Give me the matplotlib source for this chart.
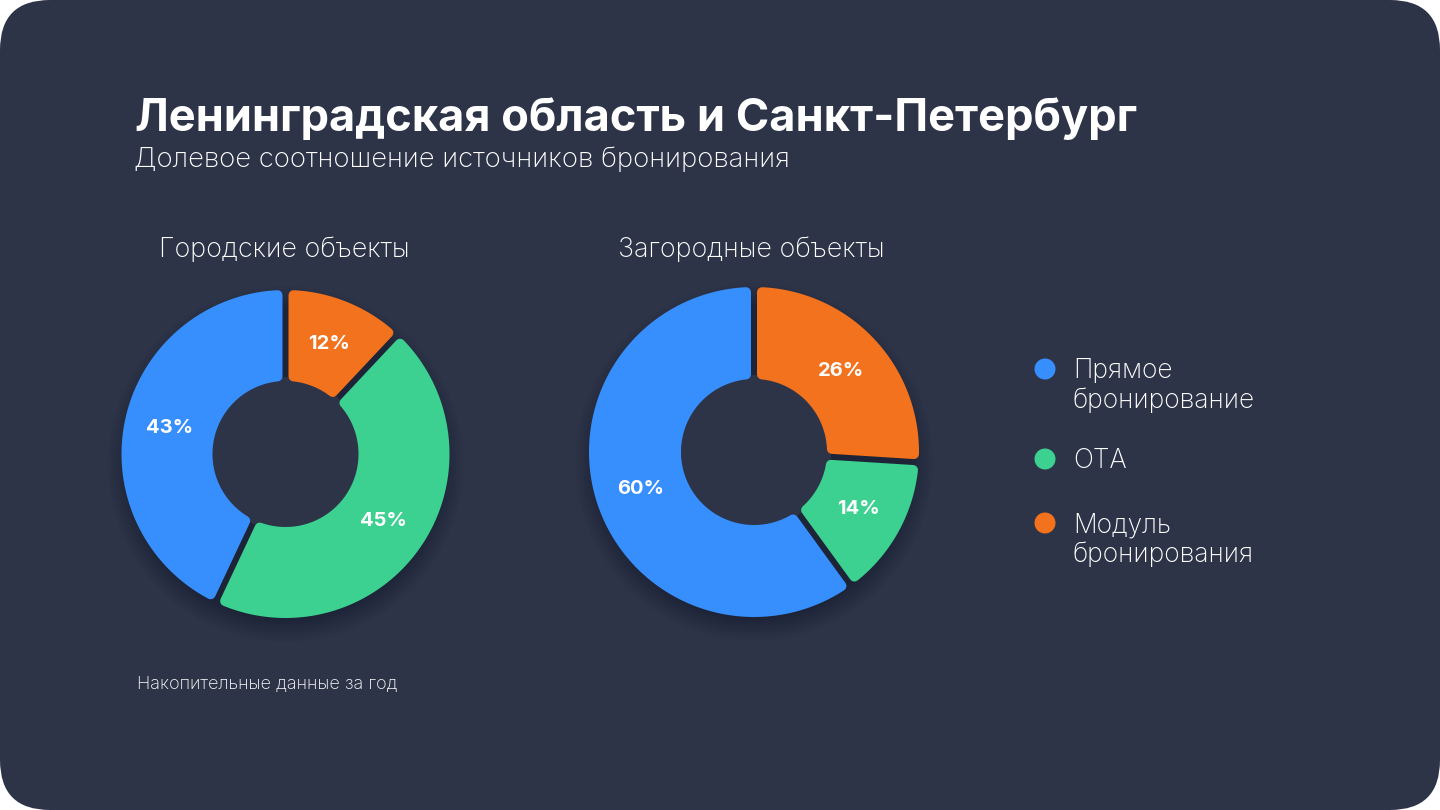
import numpy as np
import matplotlib
matplotlib.use("Agg")
import matplotlib.pyplot as plt
from matplotlib.patches import FancyBboxPatch, Polygon, Circle

# ---------------- data ----------------
title = "Ленинградская область и Санкт-Петербург"
subtitle = "Долевое соотношение источников бронирования"
footnote = "Накопительные данные за год"
categories = ["Прямое\nбронирование", "ОТА", "Модуль\nбронирования"]
chart_titles = ["Городские объекты", "Загородные объекты"]
city_values = [43, 45, 12]      # Прямое, ОТА, Модуль
country_values = [60, 14, 26]   # Прямое, ОТА, Модуль

colors = ["#378EFD", "#3CD091", "#F2721D"]
BG = "#2D3447"
FONT = ["Inter", "DejaVu Sans"]

W, H = 1440, 810
fig = plt.figure(figsize=(W / 100, H / 100), dpi=100, facecolor="white")
ax = fig.add_axes([0, 0, 1, 1])
ax.set_xlim(0, W)
ax.set_ylim(H, 0)
ax.set_aspect("equal")
ax.axis("off")

ax.add_patch(FancyBboxPatch((0, 0), W, H, boxstyle="round,pad=0,rounding_size=50",
                            fc=BG, ec="none", zorder=0))

PT = 72 / 100  # px -> points


def donut(cx, cy, R, r, values, gap=3.0, stroke=5.0):
    # soft shadow below the ring
    for k in range(16):
        ax.add_patch(Circle((cx, cy + 10), R + 14 - k * 1.5, fc="#131722",
                            ec="none", alpha=0.022, zorder=1))
    ax.add_patch(Circle((cx, cy), r + 4, fc=BG, ec="none", zorder=1.5))
    total = float(sum(values))
    start = 90.0
    h = gap + stroke
    Ro, ri = R - stroke, r + stroke
    for v, c in zip(values, colors):
        span = 360.0 * v / total
        t1, t2 = start, start + span
        ao1 = t1 + np.degrees(np.arcsin(h / Ro))
        ao2 = t2 - np.degrees(np.arcsin(h / Ro))
        ai1 = t1 + np.degrees(np.arcsin(h / ri))
        ai2 = t2 - np.degrees(np.arcsin(h / ri))
        to = np.radians(np.linspace(ao1, ao2, 200))
        ti = np.radians(np.linspace(ai2, ai1, 100))
        xs = np.concatenate([cx + Ro * np.cos(to), cx + ri * np.cos(ti)])
        ys = np.concatenate([cy - Ro * np.sin(to), cy - ri * np.sin(ti)])
        ax.add_patch(Polygon(np.column_stack([xs, ys]), closed=True, fc=c, ec=c,
                             lw=2 * stroke * PT, joinstyle="round", zorder=2))
        mid = np.radians((t1 + t2) / 2)
        lr = (R + r) / 2
        ax.text(cx + lr * np.cos(mid), cy - lr * np.sin(mid), f"{v}%",
                ha="center", va="center", color="white", fontsize=14.5,
                fontweight="bold", family=FONT, zorder=3)
        start = t2


donut(285.5, 454, 164, 73, city_values)
donut(754, 452, 165, 73, country_values)

ax.text(135, 119, title, color="white", fontsize=32.5, fontweight="bold",
        family=FONT, ha="left", va="center", zorder=3)
ax.text(134, 160, subtitle, color="white", fontsize=19.8, fontweight="light",
        family=FONT, ha="left", va="center", zorder=3)
ax.text(284, 250, chart_titles[0], color="white", fontsize=19.4, fontweight="light",
        family=FONT, ha="center", va="center", zorder=3)
ax.text(751, 250, chart_titles[1], color="white", fontsize=19.4, fontweight="light",
        family=FONT, ha="center", va="center", zorder=3)
ax.text(137, 684, footnote, color="white", fontsize=13, fontweight="light",
        family=FONT, ha="left", va="center", zorder=3)

legend_y = [369, 459, 523]
for lab, c, y in zip(categories, colors, legend_y):
    ax.add_patch(Circle((1045, y), 10.5, fc=c, ec="none", zorder=3))
    ax.text(1073, y - 11, lab, color="white", fontsize=19, fontweight="light",
            family=FONT, ha="left", va="top", linespacing=1.2, zorder=3)

fig.savefig("out.png", dpi=100, facecolor="white")
